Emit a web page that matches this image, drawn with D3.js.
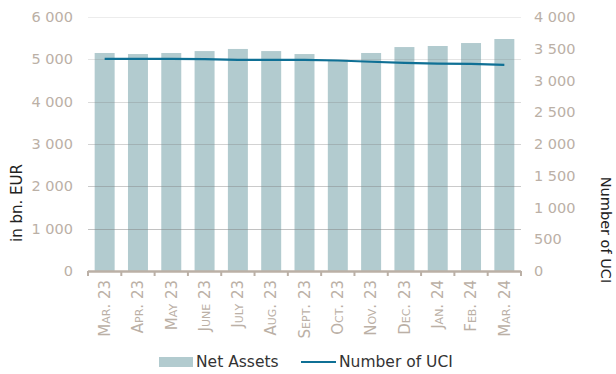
<!DOCTYPE html>
<html>
<head>
<meta charset="utf-8">
<script src="https://cdn.jsdelivr.net/npm/d3@7"></script>
<style>
  body { margin: 0; background: #fff; }
  svg { display: block; font-family: "DejaVu Sans", Verdana, sans-serif; }
</style>
</head>
<body>
<div id="canva"></div>
<script>
const months = ['Mar. 23', 'Apr. 23', 'May 23', 'June 23', 'July 23', 'Aug. 23', 'Sept. 23',
                'Oct. 23', 'Nov. 23', 'Dec. 23', 'Jan. 24', 'Feb. 24', 'Mar. 24'];
const netAssets = [5150, 5125, 5150, 5195, 5245, 5195, 5125, 4990, 5150, 5290, 5315, 5385, 5480];
const numberOfUci = [3340, 3340, 3340, 3338, 3325, 3325, 3325, 3315, 3295, 3278, 3265, 3262, 3245];
const leftTicks = [0, 1000, 2000, 3000, 4000, 5000, 6000];
const rightTicks = [0, 500, 1000, 1500, 2000, 2500, 3000, 3500, 4000];

const width = 616, height = 374;
const margin = { top: 17, right: 95, bottom: 103, left: 88 };
const innerW = width - margin.left - margin.right;
const innerH = height - margin.top - margin.bottom;

const fmt = d3.formatLocale({ decimal: ',', thousands: ' ', grouping: [3], currency: ['', ''] }).format(',d');

const svg = d3.select('#canva').append('svg')
    .attr('width', width)
    .attr('height', height);

const g = svg.append('g').attr('transform', `translate(${margin.left},${margin.top})`);

const x = d3.scaleBand().domain(months).range([0, innerW]).paddingInner(0.4).paddingOuter(0.2);
const yLeft = d3.scaleLinear().domain([0, 6000]).range([innerH, 0]);
const yRight = d3.scaleLinear().domain([0, 4000]).range([innerH, 0]);

// bars
g.selectAll('rect.bar')
    .data(netAssets)
    .enter()
    .append('rect')
    .attr('class', 'bar')
    .attr('x', (d, i) => x(months[i]))
    .attr('y', d => yLeft(d))
    .attr('width', x.bandwidth())
    .attr('height', d => innerH - yLeft(d))
    .attr('fill', '#b2cbcf');

// grid lines (drawn over the bars, fading towards the top)
g.selectAll('line.grid')
    .data(leftTicks.filter(d => d > 0))
    .enter()
    .append('line')
    .attr('class', 'grid')
    .attr('x1', 0)
    .attr('x2', innerW)
    .attr('y1', d => Math.round(yLeft(d)) + 0.5)
    .attr('y2', d => Math.round(yLeft(d)) + 0.5)
    .attr('stroke', '#808080')
    .attr('stroke-opacity', d => 0.55 - d / 6000 * 0.4);

// left axis labels
g.selectAll('text.yl')
    .data(leftTicks)
    .enter()
    .append('text')
    .attr('class', 'yl')
    .attr('x', -15)
    .attr('y', d => yLeft(d))
    .attr('dy', '0.35em')
    .attr('text-anchor', 'end')
    .attr('font-size', '14.5px')
    .attr('fill', '#bbb0a6')
    .text(d => fmt(d));

// right axis labels
g.selectAll('text.yr')
    .data(rightTicks)
    .enter()
    .append('text')
    .attr('class', 'yr')
    .attr('x', innerW + 13)
    .attr('y', d => yRight(d))
    .attr('dy', '0.35em')
    .attr('text-anchor', 'start')
    .attr('font-size', '14.5px')
    .attr('fill', '#bbb0a6')
    .text(d => fmt(d));

// x axis baseline and ticks
g.append('line')
    .attr('x1', 0).attr('x2', innerW)
    .attr('y1', innerH + 0.5).attr('y2', innerH + 0.5)
    .attr('stroke', '#bbb0a6')
    .attr('stroke-width', 2.5);

g.selectAll('line.xtick')
    .data(d3.range(months.length + 1))
    .enter()
    .append('line')
    .attr('class', 'xtick')
    .attr('x1', i => i * x.step())
    .attr('x2', i => i * x.step())
    .attr('y1', innerH)
    .attr('y2', innerH + 5)
    .attr('stroke', '#bbb0a6')
    .attr('stroke-width', 2);

// x labels
g.selectAll('text.xl')
    .data(months)
    .enter()
    .append('text')
    .attr('class', 'xl')
    .attr('transform', d => `translate(${x(d) + x.bandwidth() / 2},${innerH + 9}) rotate(-90)`)
    .attr('dy', '0.35em')
    .attr('text-anchor', 'end')
    .attr('font-size', '15px')
    .style('font-variant', 'small-caps')
    .attr('fill', '#bbb0a6')
    .text(d => d);

// UCI line
const line = d3.line()
    .x((d, i) => x(months[i]) + x.bandwidth() / 2)
    .y(d => yRight(d));

g.append('path')
    .datum(numberOfUci)
    .attr('d', line)
    .attr('fill', 'none')
    .attr('stroke', '#0f7095')
    .attr('stroke-width', 2.2);

// axis titles
svg.append('text')
    .attr('transform', `translate(22,203) rotate(-90)`)
    .attr('text-anchor', 'middle')
    .attr('font-size', '15px')
    .attr('fill', '#222')
    .text('in bn. EUR');

svg.append('text')
    .attr('transform', `translate(601,230) rotate(90)`)
    .attr('text-anchor', 'middle')
    .attr('font-size', '14.5px')
    .attr('fill', '#222')
    .text('Number of UCI');

// legend
const legend = svg.append('g').attr('transform', 'translate(159,362)');
legend.append('rect')
    .attr('x', 0).attr('y', -5)
    .attr('width', 34).attr('height', 10)
    .attr('fill', '#b2cbcf');
legend.append('text')
    .attr('x', 37).attr('y', 0).attr('dy', '0.35em')
    .attr('font-size', '15.5px').attr('fill', '#333')
    .text('Net Assets');
legend.append('line')
    .attr('x1', 142).attr('x2', 177)
    .attr('y1', 0).attr('y2', 0)
    .attr('stroke', '#0f7095').attr('stroke-width', 2.2);
legend.append('text')
    .attr('x', 180).attr('y', 0).attr('dy', '0.35em')
    .attr('font-size', '15.5px').attr('fill', '#333')
    .text('Number of UCI');
</script>
</body>
</html>
